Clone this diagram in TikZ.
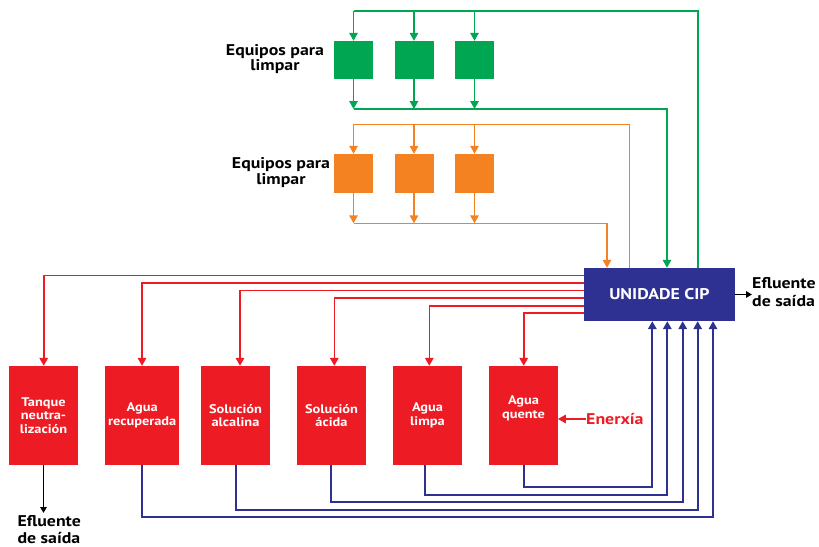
\documentclass[tikz,border=0pt]{standalone}
\usepackage{fontspec}
\setmainfont{PT Sans}[FakeStretch=1.15]
\usetikzlibrary{arrows.meta}
\definecolor{cgreen}{HTML}{00A651}
\definecolor{corange}{HTML}{F58220}
\definecolor{cred}{HTML}{ED1C24}
\definecolor{cblue}{HTML}{2E3192}
\tikzset{
  tip/.style={-{Triangle[length=8pt,width=8.5pt]}},
  gbox/.style={fill=cgreen,minimum width=39pt,minimum height=38pt,inner sep=0pt},
  obox/.style={fill=corange,minimum width=39pt,minimum height=39pt,inner sep=0pt},
  rbox/.style={fill=cred,minimum width=68.4pt,minimum height=99pt,inner sep=0pt,text=white,align=center,font=\fontsize{12.5}{13.4}\selectfont\bfseries},
  gline/.style={draw=cgreen,line width=1.6pt},
  oline/.style={draw=corange,line width=1.6pt},
  rline/.style={draw=cred,line width=1.6pt},
  bline/.style={draw=cblue,line width=1.7pt},
  lbl/.style={align=center,font=\fontsize{15.5}{15.5}\selectfont\bfseries,inner sep=0pt},
  efl/.style={align=left,font=\fontsize{15.5}{18}\selectfont\bfseries,inner sep=0pt},
}
\begin{document}
\begin{tikzpicture}[x=1pt,y=-1pt]
\useasboundingbox (0,0) rectangle (819,546);
% CIP unit
\node[fill=cblue,minimum width=151pt,minimum height=53pt,inner sep=0pt,text=white,font=\fontsize{15.5}{16}\selectfont\bfseries] (cip) at (659.5,294.5) {UNIDADE CIP};
\node[efl,anchor=west] (eff1) at (752,292.5) {Efluente\\de saída};
\draw[line width=1.4pt,-{Triangle[length=6pt,width=6.5pt]}] (cip.east) -- (eff1.west |- cip.east);
% green equipment
\node[gbox] (g1) at (353.5,60) {};
\node[gbox] (g2) at (414,60) {};
\node[gbox] (g3) at (474.5,60) {};
\node[lbl] (glbl) at (275,59) {Equipos para\\limpar};
\draw[gline] (cip.north -| 698,0) |- (g1.north |- 0,11);
\foreach \b in {g1,g2,g3}{
  \draw[gline,tip] (\b.north |- 0,11) -- (\b.north);
  \draw[gline,tip] (\b.south) -- (\b.south |- 0,109);
}
\draw[gline,tip] (g1.south |- 0,109) -| (cip.north -| 667,0);
% orange equipment
\node[obox] (o1) at (353.5,173.5) {};
\node[obox] (o2) at (414,173.5) {};
\node[obox] (o3) at (474.5,173.5) {};
\node[lbl] (olbl) at (281,172.5) {Equipos para\\limpar};
\draw[oline] (cip.north -| 629.5,0) |- (o1.north |- 0,124.3);
\foreach \b in {o1,o2,o3}{
  \draw[oline,tip] (\b.north |- 0,124.3) -- (\b.north);
  \draw[oline,tip] (\b.south) -- (\b.south |- 0,223.3);
}
\draw[oline,tip] (o1.south |- 0,223.3) -| (cip.north -| 607,0);
% red tanks
\node[rbox] (r1) at (43.5,415.5) {Tanque\\neutra-\\lización};
\node[rbox,minimum width=73.7pt] (r2) at (142.2,415.5) {Agua\\recuperada};
\node[rbox] (r3) at (235.5,415.5) {Solución\\alcalina};
\node[rbox] (r4) at (331.5,415.5) {Solución\\ácida};
\node[rbox] (r5) at (427.5,415.5) {Agua\\limpa};
\node[rbox] (r6) at (523.5,415.5) {};
\node[text=white,align=center,font=\fontsize{12.5}{13.4}\selectfont\bfseries,inner sep=0pt] (r6t) at (523.5,408.5) {Agua\\quente};
% red supply lines
\draw[rline,tip] (cip.west |- 0,275.3) -| ([xshift=0.2pt]r1.north);
\draw[rline,tip] (cip.west |- 0,283) -| ([xshift=-0.2pt]r2.north);
\draw[rline,tip] (cip.west |- 0,290.3) -| ([xshift=4.5pt]r3.north);
\draw[rline,tip] (cip.west |- 0,298) -| ([xshift=2.8pt]r4.north);
\draw[rline,tip] (cip.west |- 0,305.7) -| ([xshift=1.8pt]r5.north);
\draw[rline,tip] (cip.west |- 0,313) -| ([xshift=0.2pt]r6.north);
% energy
\node[inner sep=0pt,text=cred,font=\fontsize{15.5}{16}\selectfont\bfseries,anchor=west] (ener) at (586,419) {Enerxía};
\draw[rline,tip] (ener.west) -- (r6.east |- ener.west);
% return lines
\draw[bline,tip] ([xshift=0.2pt]r6.south) |- (652.3,487) -- (cip.south -| 652.3,0);
\draw[bline,tip] ([xshift=-2.2pt]r5.south) |- (667.3,494.7) -- (cip.south -| 667.3,0);
\draw[bline,tip] ([xshift=-0.5pt]r4.south) |- (682.7,502.3) -- (cip.south -| 682.7,0);
\draw[bline,tip] ([xshift=0.8pt]r3.south) |- (697.7,509.7) -- (cip.south -| 697.7,0);
\draw[bline,tip] ([xshift=-0.2pt]r2.south) |- (713,517.3) -- (cip.south -| 713,0);
% tank effluent
\node[efl,font=\fontsize{15.5}{16.5}\selectfont\bfseries,anchor=west] (eff2) at (17.3,529.5) {Efluente\\de saída};
\draw[line width=1.4pt,-{Triangle[length=6pt,width=6.5pt]}] (r1.south) -- (r1.south |- 0,513);
\end{tikzpicture}
\end{document}
